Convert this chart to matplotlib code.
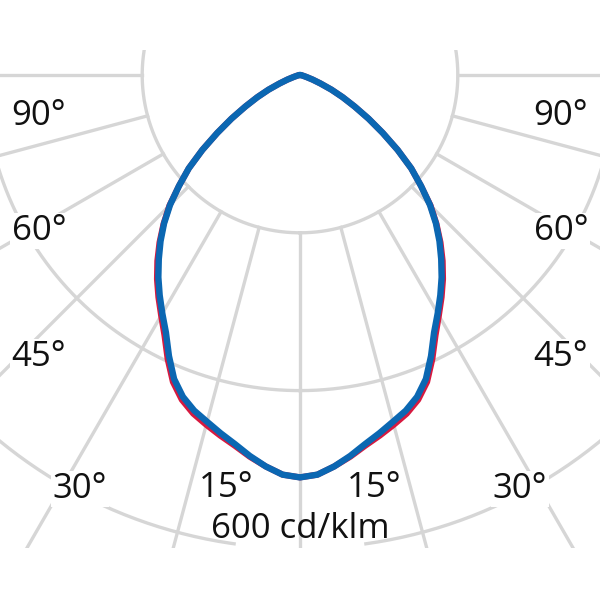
import numpy as np
import matplotlib.pyplot as plt

# luminous intensity (cd/klm), angle from nadir in degrees
angles = [0, 2.5, 5, 7.5, 10, 12.5, 15, 17.5, 20, 22.5, 25, 27.5, 30, 32.5, 35,
          37.5, 40, 42.5, 45, 47.5, 50, 52.5, 55, 57.5, 60, 62.5, 65, 67.5, 70,
          72.5, 75, 80, 85, 90, 180]
c90_270 = [510, 507, 498, 487, 475, 465, 455, 446, 434, 417, 393, 368, 349, 331, 313,
           294, 275, 255, 233, 208, 184, 156, 128, 103, 80, 61, 44, 28, 17,
           9, 5, 2, 1, 0, 0]
c0_180 = [510, 507, 498, 488, 477, 468, 459, 450, 438, 421, 397, 372, 352, 334, 316,
          297, 277, 256, 234, 208, 184, 156, 128, 103, 80, 61, 44, 28, 17,
          9, 5, 2, 1, 0, 0]

rings = [200, 400, 600]
spokes = np.arange(0, 360, 15)
ring_label = "600 cd/klm"
angle_labels = ["90°", "60°", "45°", "30°", "15°"]

grid_col = "#d6d6d6"
px = 0.789  # pixels per cd/klm


def to_data(x_px, y_px):
    return (x_px - 300) / px, -(y_px - 75) / px


fig = plt.figure(figsize=(6, 6), dpi=100)
ax = fig.add_axes([0, 52 / 600, 1, 498 / 600])
ax.set_xlim(-300 / px, 300 / px)
ax.set_ylim(-(548 - 75) / px, 25 / px)
ax.axis("off")

# grid circles, the outer one has a gap for the scale label
t = np.linspace(0, 2 * np.pi, 721)
for r in rings[:-1]:
    ax.plot(r * np.sin(t), -r * np.cos(t), color=grid_col, lw=2.4, zorder=1)
r = rings[-1]
gap = np.radians(8)
t2 = np.linspace(gap, 2 * np.pi - gap, 700)
ax.plot(r * np.sin(t2), -r * np.cos(t2), color=grid_col, lw=2.4, zorder=1)

for a in np.radians(spokes):
    ax.plot([rings[0] * np.sin(a), 1500 * np.sin(a)],
            [-rings[0] * np.cos(a), -1500 * np.cos(a)],
            color=grid_col, lw=2.4, zorder=1)


def draw_curve(vals, color, lw, z):
    th = np.radians(angles)
    v = np.array(vals, dtype=float)
    x = np.concatenate([-(v * np.sin(th))[::-1], v * np.sin(th)])
    y = np.concatenate([-(v * np.cos(th))[::-1], -v * np.cos(th)])
    ax.plot(x, y, color=color, lw=lw, zorder=z, solid_joinstyle="round",
            solid_capstyle="round")


draw_curve(c0_180, "#d7193f", 4.4, 3)
draw_curve(c90_270, "#0b67b2", 4.6, 4)

# angle labels (pixel positions: centre x, baseline y)
left_pos = [(39, 125), (39, 240), (39, 366), (80, 498), (226, 497)]
for lab, (xp, yp) in zip(angle_labels, left_pos):
    for xx in (xp, 600 - xp):
        dx, dy = to_data(xx, yp)
        ax.text(dx, dy, lab, ha="center", va="baseline", fontsize=25,
                family="Open Sans", color="#111111", zorder=5,
                bbox=dict(facecolor="white", edgecolor="none", pad=1))

dx, dy = to_data(300, 538)
ax.text(dx, dy, ring_label, ha="center", va="baseline", fontsize=25,
        family="Open Sans", color="#111111", zorder=5)

fig.savefig("out.png", dpi=100, facecolor="white")
